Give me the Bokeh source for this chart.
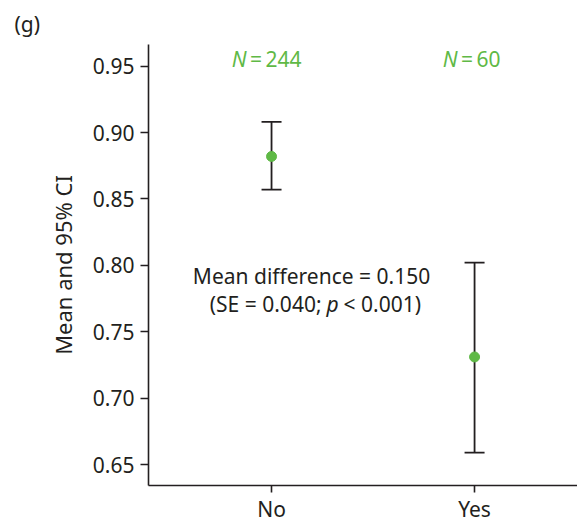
from bokeh.plotting import figure
from bokeh.models import Range1d, FixedTicker, Whisker, ColumnDataSource, Label, TeeHead
from bokeh.embed import file_html
from bokeh.resources import INLINE

# data
categories = ["No", "Yes"]
means = [0.882, 0.731]
ci_lower = [0.857, 0.659]
ci_upper = [0.908, 0.802]
n_labels = ["244", "60"]
y_ticks = [0.65, 0.70, 0.75, 0.80, 0.85, 0.90, 0.95]

FONT = "Noto Sans"
DARK = "#231f20"
GREEN = "#5fb946"

xs = list(range(len(categories)))
src = ColumnDataSource(dict(x=xs, mean=means, lo=ci_lower, hi=ci_upper))

p = figure(frame_width=429, frame_height=441,
           x_range=Range1d(-0.606, 1.507), y_range=Range1d(0.6342, 0.9663),
           output_backend="svg", toolbar_location=None,
           min_border_left=148, min_border_top=44, min_border_right=0, min_border_bottom=0)
p.outline_line_color = None
p.xgrid.visible = False
p.ygrid.visible = False
p.background_fill_color = "white"
p.border_fill_color = "white"

p.title.text = "(g)"
p.title.align = "left"
p.title.offset = -134
p.title.text_font = FONT
p.title.text_font_size = "21px"
p.title.text_font_style = "normal"
p.title.text_color = DARK
p.title.vertical_align = "top"

for ax in (p.xaxis[0], p.yaxis[0]):
    ax.axis_line_color = DARK
    ax.axis_line_width = 1.6
    ax.major_tick_line_color = DARK
    ax.major_tick_line_width = 1.6
    ax.major_tick_out = 8
    ax.major_tick_in = 0
    ax.minor_tick_line_color = None
    ax.major_label_text_font = FONT
    ax.major_label_text_font_size = "21px"
    ax.major_label_text_color = DARK

p.yaxis.ticker = FixedTicker(ticks=y_ticks)
p.yaxis.major_label_overrides = {t: f"{t:.2f}" for t in y_ticks}
p.yaxis.major_label_standoff = 6
p.yaxis.axis_label = "Mean and 95% CI"
p.yaxis.axis_label_text_font = FONT
p.yaxis.axis_label_text_font_size = "22px"
p.yaxis.axis_label_text_font_style = "normal"
p.yaxis.axis_label_text_color = DARK
p.yaxis.axis_label_standoff = 12

p.xaxis.ticker = FixedTicker(ticks=xs)
p.xaxis.major_label_overrides = {i: c for i, c in enumerate(categories)}
p.xaxis.major_label_standoff = 2
p.xaxis.major_tick_out = 7

w = Whisker(base="x", upper="hi", lower="lo", source=src, dimension="height",
            line_color=DARK, line_width=1.8,
            upper_head=TeeHead(size=20, line_color=DARK, line_width=1.8),
            lower_head=TeeHead(size=20, line_color=DARK, line_width=1.8))
p.add_layout(w)
p.scatter("x", "mean", source=src, size=10, color=GREEN, line_color=GREEN)

# N labels
n_offsets = [-25, -17]
for x, n, off in zip(xs, n_labels, n_offsets):
    p.add_layout(Label(x=x, y=0.9555, x_offset=off, text="N", text_align="right",
                       text_baseline="middle", text_font=FONT, text_font_size="21px",
                       text_font_style="italic", text_color=GREEN))
    p.add_layout(Label(x=x, y=0.9555, x_offset=off, text="\u2009=\u2009" + n, text_align="left",
                       text_baseline="middle", text_font=FONT, text_font_size="21px",
                       text_color=GREEN))

# annotation
ax_x = 0.197
p.add_layout(Label(x=ax_x, y=0.7922, text="Mean difference = 0.150", text_align="center",
                   text_baseline="middle", text_font=FONT, text_font_size="21px", text_color=DARK))
p.add_layout(Label(x=ax_x, y=0.7711, x_offset=10, text="(SE = 0.040;", text_align="right",
                   text_baseline="middle", text_font=FONT, text_font_size="21px", text_color=DARK))
p.add_layout(Label(x=ax_x, y=0.7711, x_offset=15, text="p", text_align="left",
                   text_baseline="middle", text_font=FONT, text_font_size="21px",
                   text_font_style="italic", text_color=DARK))
p.add_layout(Label(x=ax_x, y=0.7711, x_offset=32, text="< 0.001)", text_align="left",
                   text_baseline="middle", text_font=FONT, text_font_size="21px", text_color=DARK))

open("out.html", "w").write(file_html(p, INLINE))
